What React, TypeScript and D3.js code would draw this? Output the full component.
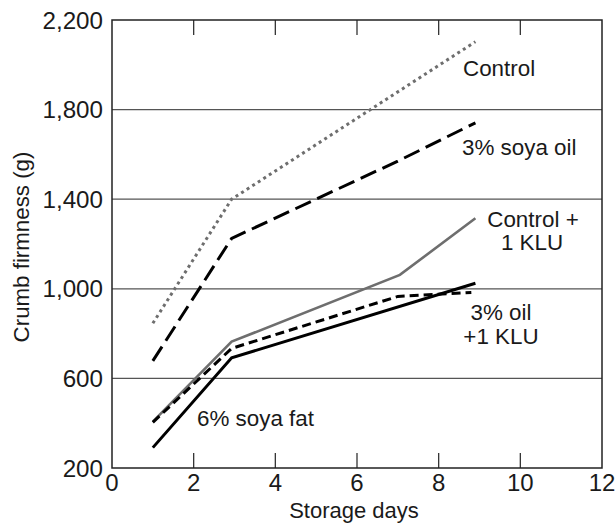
import React from "react";
import * as d3 from "d3";

const W = 615;
const H = 523;
const margin = { left: 112, right: 13, top: 20, bottom: 55 };

const xTicks = [0, 2, 4, 6, 8, 10, 12];
const yTicks = [200, 600, 1000, 1400, 1800, 2200];
const yGrid = [600, 1000, 1400, 1800];

const controlDays = [1, 2.93, 8.9];
const controlVals = [846, 1400, 2103];
const soyaOilDays = [1, 2.93, 7, 8.9];
const soyaOilVals = [678, 1225, 1570, 1741];
const controlKluDays = [1, 2.93, 7.05, 8.9];
const controlKluVals = [407, 764, 1062, 1315];
const oilKluDays = [1, 2.93, 7, 8.8];
const oilKluVals = [404, 734, 966, 984];
const soyaFatDays = [1, 2.93, 8.9];
const soyaFatVals = [291, 692, 1025];

type S = { days: number[]; vals: number[]; color: string; width: number; dash: string | null };
const series: S[] = [
  { days: controlDays, vals: controlVals, color: "#6e6e6e", width: 3, dash: "3,3.6" },
  { days: soyaOilDays, vals: soyaOilVals, color: "#000", width: 3, dash: "17,7" },
  { days: controlKluDays, vals: controlKluVals, color: "#6e6e6e", width: 2.6, dash: null },
  { days: oilKluDays, vals: oilKluVals, color: "#000", width: 3, dash: "9,5" },
  { days: soyaFatDays, vals: soyaFatVals, color: "#000", width: 3, dash: null },
];

const font = "Liberation Sans";

export default function App() {
  const x = d3.scaleLinear().domain([0, 12]).range([margin.left, W - margin.right]);
  const y = d3.scaleLinear().domain([200, 2200]).range([H - margin.bottom, margin.top]);
  const line = d3
    .line<[number, number]>()
    .x((d) => x(d[0]))
    .y((d) => y(d[1]));
  const fmt = d3.format(",");
  const x0 = x(0), x1 = x(12), y0 = y(200), y1 = y(2200);
  return (
    <svg
      width={W}
      height={H}
      style={{ position: "absolute", left: 0, top: 0, background: "#fff" }}
      fontFamily={font}
    >
      {yGrid.map((v) => (
        <line key={v} x1={x0} x2={x1} y1={y(v)} y2={y(v)} stroke="#555" strokeWidth={1.3} />
      ))}
      {xTicks.slice(1, -1).map((t) => (
        <g key={t}>
          <line x1={x(t)} x2={x(t)} y1={y0} y2={y0 - 15} stroke="#333" strokeWidth={1.3} />
          <line x1={x(t)} x2={x(t)} y1={y1} y2={y1 + 15} stroke="#333" strokeWidth={1.3} />
        </g>
      ))}
      <rect x={x0} y={y1} width={x1 - x0} height={y0 - y1} fill="none" stroke="#222" strokeWidth={1.5} />
      {series.map((s, i) => (
        <path
          key={i}
          d={line(s.days.map((d, j) => [d, s.vals[j]] as [number, number])) || ""}
          fill="none"
          stroke={s.color}
          strokeWidth={s.width}
          strokeDasharray={s.dash || undefined}
          strokeLinejoin="miter"
        />
      ))}
      {yTicks.map((t) => (
        <text key={t} x={x0 - 9} y={y(t) + 8.5} textAnchor="end" fontSize={24.2} fill="#1a1a1a">
          {fmt(t)}
        </text>
      ))}
      {xTicks.map((t) => (
        <text key={t} x={x(t)} y={491} textAnchor="middle" fontSize={24} fill="#1a1a1a">
          {t}
        </text>
      ))}
      <text x={354} y={517.5} textAnchor="middle" fontSize={22} fill="#1a1a1a">
        Storage days
      </text>
      <text
        transform={`translate(29,247) rotate(-90)`}
        textAnchor="middle"
        fontSize={22.3}
        fill="#1a1a1a"
      >
        Crumb firmness (g)
      </text>
      <g fontSize={22.4} fill="#1a1a1a">
        <text x={463} y={76}>Control</text>
        <text x={462} y={155}>3% soya oil</text>
        <text x={533} y={226.5} textAnchor="middle">Control +</text>
        <text x={532} y={249.5} textAnchor="middle">1 KLU</text>
        <text x={501} y={319.5} textAnchor="middle">3% oil</text>
        <text x={501} y={344} textAnchor="middle">+1 KLU</text>
        <text x={197} y={425.5}>6% soya fat</text>
      </g>
    </svg>
  );
}
